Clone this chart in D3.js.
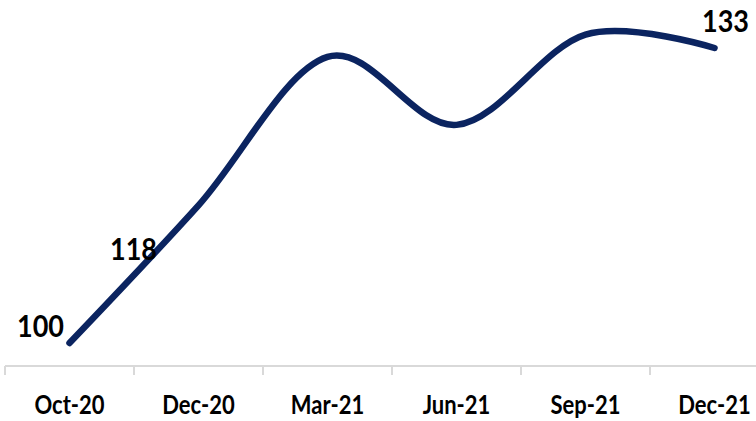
<!DOCTYPE html>
<html>
<head>
<meta charset="utf-8">
<script src="https://cdn.jsdelivr.net/npm/d3@7"></script>
<style>
  body { margin: 0; background: #fff; }
  svg { display: block; }
  text { font-family: Lato, "Noto Sans", sans-serif; font-weight: bold; fill: #000; }
</style>
</head>
<body>
<div id="chart"></div>
<script>
const months = ['Oct-20', 'Dec-20', 'Mar-21', 'Jun-21', 'Sep-21', 'Dec-21'];
const values = [100, 115.4, 132.0, 124.4, 134.5, 133];
const labels = ['100', '118', '', '', '', '133'];

const width = 756;
const height = 421;

const svg = d3.select('#chart')
                .append('svg')
                .attr('width', width)
                .attr('height', height);

const x = d3.scaleBand()
            .domain(months)
            .range([5, 779]);

const y = d3.scaleLinear()
            .domain([100, 133])
            .range([343, 48]);

const cx = d => x(d) + x.bandwidth() / 2;

// axis line + ticks between categories
const axisY = 366;
svg.append('line')
    .attr('x1', x.range()[0]).attr('x2', width)
    .attr('y1', axisY).attr('y2', axisY)
    .attr('stroke', '#d9d9d9')
    .attr('stroke-width', 2);

svg.append('g').selectAll('line')
    .data(months)
    .enter()
    .append('line')
    .attr('x1', d => x(d)).attr('x2', d => x(d))
    .attr('y1', axisY).attr('y2', axisY + 9)
    .attr('stroke', '#d9d9d9')
    .attr('stroke-width', 2);

// narrow-ish bold look: smaller font stretched vertically
svg.append('g').selectAll('text')
    .data(months)
    .enter()
    .append('text')
    .attr('transform', d => `translate(${cx(d)},414) scale(1,1.22)`)
    .attr('text-anchor', 'middle')
    .style('font-size', '22px')
    .text(d => d);

// line
const line = d3.line()
                .x((d, i) => cx(months[i]))
                .y(d => y(d))
                .curve(d3.curveCatmullRom.alpha(0));

svg.append('path')
    .datum(values)
    .attr('d', line)
    .attr('fill', 'none')
    .attr('stroke', '#0b2460')
    .attr('stroke-width', 6.5)
    .attr('stroke-linecap', 'round');

// data labels
const offsets = [[-29, -6], [-65, 55], [11, -16]];
const shown = labels.map((t, i) => ({t, i})).filter(d => d.t !== '');
svg.append('g').selectAll('text')
    .data(shown)
    .enter()
    .append('text')
    .attr('transform', (d, k) => `translate(${cx(months[d.i]) + offsets[k][0]},${y(values[d.i]) + offsets[k][1]}) scale(1,1.14)`)
    .attr('text-anchor', 'middle')
    .style('font-size', '27px')
    .text(d => d.t);
</script>
</body>
</html>
